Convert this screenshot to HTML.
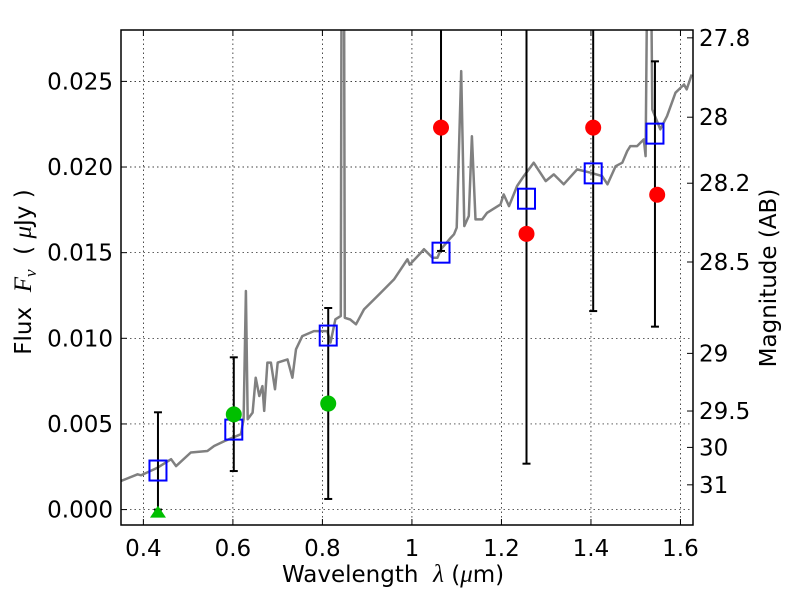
<!DOCTYPE html>
<html><head><meta charset="utf-8"><style>
html,body{margin:0;padding:0;background:#fff;}
svg text{font-family:"DejaVu Sans","Liberation Sans",sans-serif;fill:#000;}
.m{font-family:"Liberation Serif","DejaVu Serif",serif;font-style:italic;}
</style></head><body>
<svg id="chart" width="800" height="600" xmlns="http://www.w3.org/2000/svg">
<rect x="0" y="0" width="800" height="600" fill="#fff"/>
<defs><clipPath id="clip"><rect x="121" y="30" width="572" height="495"/></clipPath></defs>
<g id="grid"></g>
<g id="plot" clip-path="url(#clip)"></g>
<g id="axes"></g>
<text x="282" y="582" font-size="23" xml:space="preserve">Wavelength  <tspan class="m" font-size="25">λ</tspan> (<tspan class="m" font-size="25">μ</tspan>m)</text>
<text transform="translate(31,272) rotate(-90)" font-size="23" text-anchor="middle" xml:space="preserve">Flux  <tspan class="m" font-size="25">F</tspan><tspan class="m" font-size="17" dy="5">ν</tspan><tspan dy="-5">  ( </tspan><tspan class="m" font-size="25">μ</tspan>Jy )</text>
<text transform="translate(776,278) rotate(-90)" font-size="23" text-anchor="middle">Magnitude (AB)</text>
</svg>
<script>
const xTicks = [0.4, 0.6, 0.8, 1.0, 1.2, 1.4, 1.6];
const xTickLabels = ["0.4", "0.6", "0.8", "1", "1.2", "1.4", "1.6"];
const yTicks = [0.000, 0.005, 0.010, 0.015, 0.020, 0.025];
const yTickLabels = ["0.000", "0.005", "0.010", "0.015", "0.020", "0.025"];
const magTicks = [27.8, 28, 28.2, 28.5, 29, 29.5, 30, 31];
const magTickLabels = ["27.8", "28", "28.2", "28.5", "29", "29.5", "30", "31"];
const specWave = [0.35,0.387,0.395,0.432,0.462,0.473,0.506,0.543,0.558,0.581,0.618,0.624,0.629,0.633,0.644,0.651,0.659,0.666,0.670,0.677,0.685,0.694,0.700,0.722,0.733,0.741,0.755,0.781,0.811,0.818,0.829,0.841,0.843,0.848,0.850,0.862,0.875,0.893,0.923,0.960,0.990,0.995,1.020,1.027,1.046,1.057,1.065,1.087,1.094,1.100,1.110,1.117,1.127,1.134,1.142,1.157,1.168,1.198,1.205,1.217,1.235,1.250,1.272,1.299,1.317,1.339,1.369,1.399,1.425,1.437,1.455,1.470,1.481,1.488,1.503,1.518,1.522,1.527,1.533,1.537,1.555,1.570,1.589,1.608,1.614,1.625];
const specFlux = [0.00167,0.00206,0.0020,0.00245,0.00294,0.00254,0.00333,0.00342,0.00371,0.0040,0.0044,0.00527,0.01276,0.00527,0.00566,0.0077,0.00663,0.00721,0.00576,0.00858,0.00858,0.00702,0.00858,0.00877,0.0077,0.00936,0.01013,0.01042,0.01042,0.00975,0.01111,0.0113,0.035,0.035,0.0112,0.0111,0.01082,0.01169,0.01247,0.01344,0.01461,0.0143,0.0150,0.0152,0.0147,0.0147,0.0152,0.01588,0.01607,0.01646,0.0256,0.01655,0.01714,0.0218,0.01694,0.01694,0.01733,0.01782,0.0184,0.01772,0.01889,0.01947,0.02025,0.01918,0.01957,0.01899,0.01986,0.01967,0.01947,0.01899,0.02005,0.02025,0.02093,0.02122,0.02122,0.02161,0.02064,0.035,0.035,0.02336,0.0222,0.02297,0.02434,0.02482,0.02453,0.0254];
const bandWave = [0.4326, 0.602, 0.813, 1.065, 1.256, 1.405, 1.543];
const modelFlux = [0.00228, 0.00467, 0.01016, 0.0150, 0.01815, 0.01963, 0.02195];
const errLow = [0.0, 0.00225, 0.00062, 0.0151, 0.00268, 0.01159, 0.01068];
const errHigh = [0.00568, 0.00889, 0.01177, 0.035, 0.035, 0.035, 0.02617];
const greenWave = [0.602, 0.813];
const greenFlux = [0.00556, 0.00619];
const triWave = [0.4326];
const triFlux = [0.0];
const redWave = [1.065, 1.256, 1.405, 1.548];
const redFlux = [0.0223, 0.0161, 0.0223, 0.01838];

const X0=121, X1=693, Y0=30, Y1=525;
const xmin=0.35, xmax=1.628, ymin=-0.0009, ymax=0.028;
const sx = v => X0 + (v - xmin) / (xmax - xmin) * (X1 - X0);
const sy = v => Y1 - (v - ymin) / (ymax - ymin) * (Y1 - Y0);
const magToFlux = m => Math.pow(10, (23.9 - m) / 2.5);
const NS = "http://www.w3.org/2000/svg";
function mk(tag, attrs, parent) {
  const e = document.createElementNS(NS, tag);
  for (const k in attrs) e.setAttribute(k, attrs[k]);
  parent.appendChild(e);
  return e;
}
const grid = document.getElementById('grid');
const plot = document.getElementById('plot');
const axes = document.getElementById('axes');

xTicks.forEach((t, i) => {
  const x = sx(t);
  const g = mk('line', {x1:x, x2:x, y1:Y0, y2:Y1, stroke:'#000', 'stroke-width':0.7, 'stroke-dasharray':'1.5,3'}, grid);
  
  
  const tk = mk('line', {x1:x, x2:x, y1:Y1, y2:Y1-6, stroke:'#000', 'stroke-width':1}, axes);
  
  
  const tk2 = mk('line', {x1:x, x2:x, y1:Y0, y2:Y0+6, stroke:'#000', 'stroke-width':1}, axes);
  
  
  const tx = mk('text', {x:x, y:556, 'font-size':23, 'text-anchor':'middle'}, axes);
  tx.textContent = xTickLabels[i];
  
  
});
yTicks.forEach((t, i) => {
  const y = sy(t);
  const g = mk('line', {x1:X0, x2:X1, y1:y, y2:y, stroke:'#000', 'stroke-width':0.7, 'stroke-dasharray':'1.5,3'}, grid);
  
  
  const tk = mk('line', {x1:X0, x2:X0+6, y1:y, y2:y, stroke:'#000', 'stroke-width':1}, axes);
  
  
  const tx = mk('text', {x:113, y:y+8, 'font-size':23, 'text-anchor':'end'}, axes);
  tx.textContent = yTickLabels[i];
  
  
});
magTicks.forEach((m, i) => {
  const y = sy(magToFlux(m));
  const tk = mk('line', {x1:X1, x2:X1-6, y1:y, y2:y, stroke:'#000', 'stroke-width':1}, axes);
  
  
  const tx = mk('text', {x:699, y:y+8, 'font-size':23}, axes);
  tx.textContent = magTickLabels[i];
  
  
});

const pts = specWave.map((w, i) => sx(w).toFixed(1) + ',' + sy(specFlux[i]).toFixed(1)).join(' ');
const spec = mk('polyline', {points:pts, fill:'none', stroke:'#808080', 'stroke-width':2.5, 'stroke-linejoin':'round'}, plot);



bandWave.forEach((w, i) => {
  const x = sx(w), yl = sy(errLow[i]), yh = sy(errHigh[i]);
  const l = mk('line', {x1:x, x2:x, y1:yl, y2:yh, stroke:'#000', 'stroke-width':2}, plot);
  
  
  const c1 = mk('line', {x1:x-4, x2:x+4, y1:yl, y2:yl, stroke:'#000', 'stroke-width':2}, plot);
  
  
  const c2 = mk('line', {x1:x-4, x2:x+4, y1:yh, y2:yh, stroke:'#000', 'stroke-width':2}, plot);
  
  
});
bandWave.forEach((w, i) => {
  const x = sx(w), y = sy(modelFlux[i]);
  const r = mk('rect', {x:x-8.5, y:y-10, width:17, height:20, fill:'none', stroke:'#0000ff', 'stroke-width':2}, plot);
  
  
});
greenWave.forEach((w, i) => {
  const c = mk('circle', {cx:sx(w), cy:sy(greenFlux[i]), r:8, fill:'#00bf00'}, plot);
  
  
});
triWave.forEach((w, i) => {
  const x = sx(w), y = sy(triFlux[i]);
  const t = mk('polygon', {points:`${x},${y-4} ${x-8},${y+8} ${x+8},${y+8}`, fill:'#00bf00'}, plot);
  
  
});
redWave.forEach((w, i) => {
  const c = mk('circle', {cx:sx(w), cy:sy(redFlux[i]), r:8, fill:'#ff0000'}, plot);
  
  
});
const frame = mk('rect', {x:X0, y:Y0, width:X1-X0, height:Y1-Y0, fill:'none', stroke:'#000', 'stroke-width':1.5}, axes);


</script>
</body></html>
